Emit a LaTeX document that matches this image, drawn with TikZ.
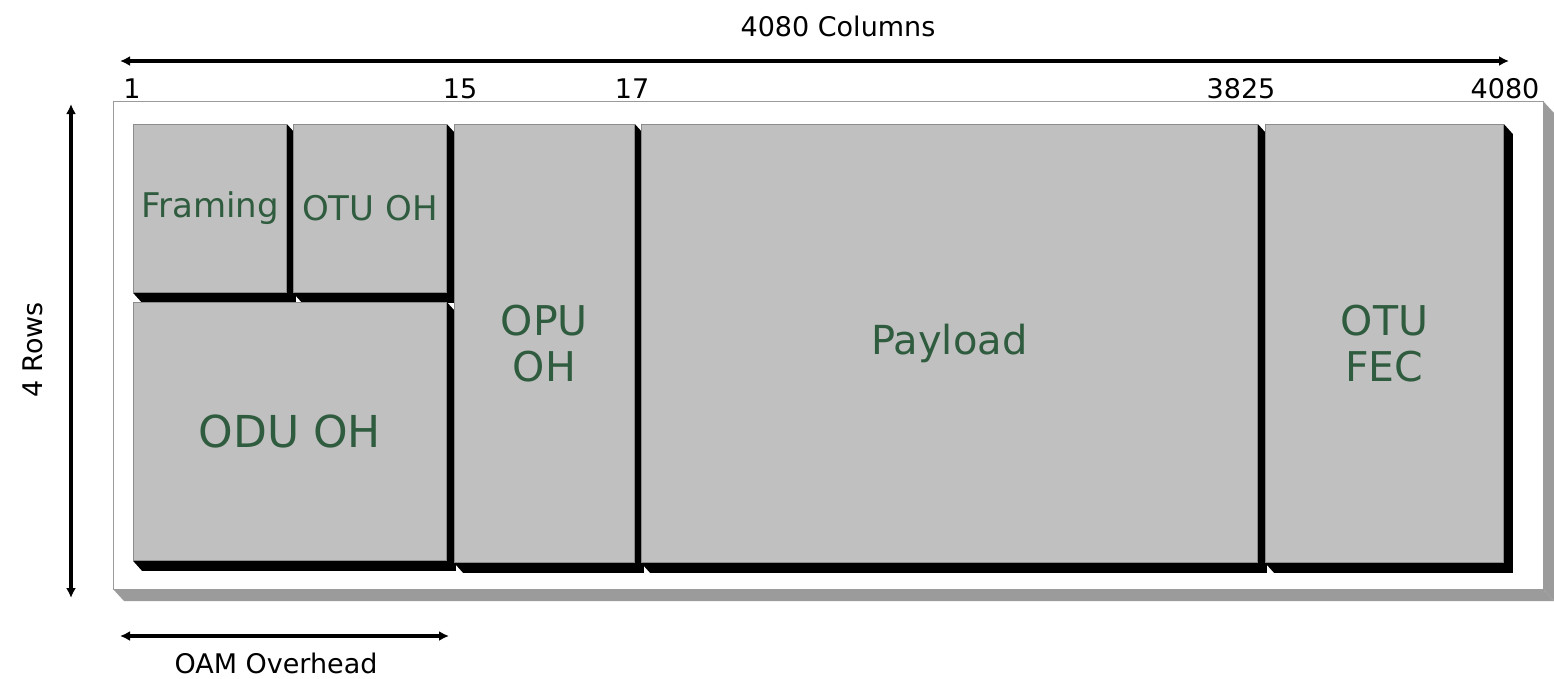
\documentclass[tikz,border=0pt]{standalone}
\usepackage{fontspec}
\setmainfont{DejaVu Sans}
\usetikzlibrary{calc,arrows.meta,backgrounds}
\definecolor{boxgray}{RGB}{192,192,192}
\definecolor{edgegray}{RGB}{140,140,140}
\definecolor{framegray}{RGB}{155,155,155}
\definecolor{labelgreen}{RGB}{47,92,62}
\tikzset{
  cell/.style={draw=edgegray, line width=0.8pt, fill=boxgray, anchor=north west,
    inner sep=0pt, align=center, text=labelgreen},
  dimarrow/.style={line width=3.5pt, {Latex[length=10pt,width=10pt]}-{Latex[length=10pt,width=10pt]}},
  numlbl/.style={font=\fontsize{27}{27}\selectfont, inner sep=0pt},
  dimlbl/.style={font=\fontsize{27}{27}\selectfont, inner sep=0pt},
}
\newcommand{\cellshadow}[1]{%
  \fill[black] (#1.north east) -- ++(9,10) -- ($(#1.south east)+(9,10)$)
    -- ($(#1.south west)+(9,10)$) -- (#1.south west) -- cycle;}
\begin{document}
\begin{tikzpicture}[x=1pt,y=-1pt]
\useasboundingbox (0,0) rectangle (1554,678);
% cells
\node[cell, minimum width=153pt, minimum height=168pt, font=\fontsize{34}{34}\selectfont] (framing) at (133,124) {Framing};
\node[cell, minimum width=153pt, minimum height=168pt, font=\fontsize{34}{34}\selectfont] (otuoh) at (293,124) {OTU OH};
\node[cell, minimum width=313pt, minimum height=258pt, font=\fontsize{44}{44}\selectfont] (oduoh) at (133,302) {ODU OH};
\node[cell, minimum width=180pt, minimum height=438pt, font=\fontsize{41}{46}\selectfont] (opuoh) at (454,124) {OPU\\OH};
\node[cell, minimum width=616pt, minimum height=438pt, font=\fontsize{40}{40}\selectfont] (payload) at (641,124) {Payload};
\node[cell, minimum width=238pt, minimum height=438pt, font=\fontsize{41}{46}\selectfont] (fec) at (1265,124) {OTU\\FEC};
\begin{scope}[on background layer]
% outer frame with its 3D edge
\coordinate (fNW) at (113,101);
\coordinate (fSE) at (1543,589);
\fill[framegray] (fNW |- fSE) -- ++(11,12) -- ($(fSE)+(11,12)$) -- (fSE) -- cycle;
\fill[framegray] (fNW -| fSE) -- ++(11,12) -- ($(fSE)+(11,12)$) -- (fSE) -- cycle;
\node[draw=framegray, fill=white, line width=0.8pt, anchor=north west, inner sep=0pt,
  minimum width=1430pt, minimum height=488pt] (frame) at (fNW) {};
\cellshadow{framing}
\cellshadow{otuoh}
\cellshadow{oduoh}
\cellshadow{opuoh}
\cellshadow{payload}
\cellshadow{fec}
\end{scope}
% dimension arrows
\coordinate (colL) at (120,61);
\coordinate (colR) at (1509,61);
\draw[dimarrow] (colL) -- (colR);
\node[dimlbl] (cols) at (838,26) {4080 Columns};
\coordinate (rowT) at (71,104);
\coordinate (rowB) at (71,598);
\draw[dimarrow] (rowT) -- (rowB);
\node[dimlbl, rotate=90] (rows) at (33,350) {4 Rows};
\coordinate (oamL) at (120,636);
\coordinate (oamR) at (449,636);
\draw[dimarrow] (oamL) -- (oamR);
\node[dimlbl] (oam) at (276,663) {OAM Overhead};
% column numbers
\node[numlbl] (n1) at (132,89) {1};
\node[numlbl] (n15) at (460,89) {15};
\node[numlbl] (n17) at (632,89) {17};
\node[numlbl] (n3825) at (1241,89) {3825};
\node[numlbl] (n4080) at (1505,89) {4080};
\end{tikzpicture}
\end{document}
